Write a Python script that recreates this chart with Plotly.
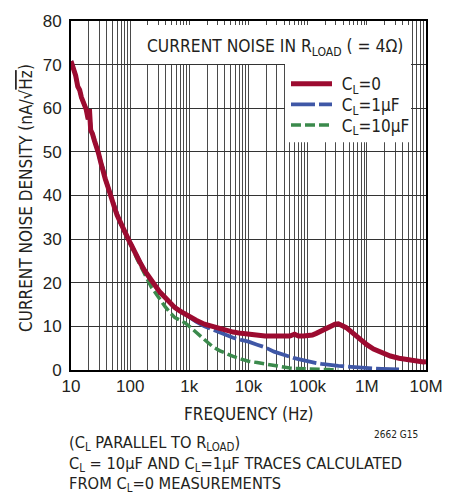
import plotly.graph_objects as go

# Frequency grid (Hz) shared by the three traces
freq_hz = [10, 11, 12, 13, 14, 15, 16.5, 18, 19.5, 20.5, 21.5, 23, 25, 27, 29, 32, 35, 38, 42, 46,
           50, 55, 60, 66, 72, 80, 88, 96, 105, 115, 130, 150, 175, 200, 230, 270, 320, 390, 470, 570,
           700, 850, 1000, 1300, 1800, 2500, 3300, 4000, 5500, 7500, 10000, 14000, 19000, 27000, 38000,
           50000, 60000, 70000, 85000, 100000, 120000, 140000, 170000, 200000, 240000, 290000, 330000,
           380000, 450000, 530000, 650000, 800000, 1000000, 1300000, 1800000, 2500000, 3500000,
           5000000, 7000000, 9000000, 10000000]

# Measured current noise, C_L = 0 (nA/rtHz)
noise_cl0 = [70.8, 69.0, 67.5, 65.0, 64.2, 62.5, 61.0, 59.8, 57.5, 59.8, 55.0, 54.2, 52.5, 51.3, 49.8,
             47.5, 46.0, 43.8, 42.0, 40.0, 38.8, 37.0, 35.5, 34.2, 33.0, 31.8, 30.4, 29.6, 28.6, 27.4,
             25.9, 24.4, 22.8, 21.6, 20.3, 19.2, 17.8, 16.6, 15.4, 14.3, 13.5, 12.8, 12.4, 11.4, 10.5,
             9.9, 9.4, 9.0, 8.7, 8.4, 8.2, 8.0, 7.8, 7.8, 7.7, 7.8, 8.2, 7.8, 7.8, 7.9, 8.0, 8.4, 9.0,
             9.6, 10.1, 10.5, 10.6, 10.3, 9.7, 8.9, 7.8, 6.8, 5.8, 4.8, 3.9, 3.2, 2.7, 2.3, 2.0, 1.85, 1.9]

# Calculated, C_L = 1uF
noise_cl1u = [70.8, 69.0, 67.5, 65.0, 64.2, 62.5, 61.0, 59.8, 57.5, 59.8, 55.0, 54.2, 52.5, 51.3, 49.8,
              47.5, 46.0, 43.8, 42.0, 40.0, 38.8, 37.0, 35.5, 34.2, 33.0, 31.8, 30.4, 29.6, 28.6, 27.4,
              25.9, 24.4, 22.8, 21.6, 20.3, 19.2, 17.8, 16.6, 15.4, 14.3, 13.5, 12.7, 12.1, 11.1, 10.0,
              9.2, 8.6, 8.0, 7.4, 6.9, 6.5, 5.8, 5.2, 4.2, 3.5, 3.0, 2.7, 2.5, 2.2, 2.0, 1.8, 1.6, 1.4,
              1.25, 1.1, 1.0, 0.95, 0.9, 0.8, 0.75, 0.6, 0.5, 0.42, 0.35, 0.28, 0.2, 0.15,
              None, None, None, None]

# Calculated, C_L = 10uF
noise_cl10u = [70.8, 69.0, 67.5, 65.0, 64.2, 62.5, 61.0, 59.8, 57.5, 59.8, 55.0, 54.2, 52.5, 51.3, 49.8,
               47.5, 46.0, 43.8, 42.0, 40.0, 38.8, 37.0, 35.5, 34.2, 33.0, 31.8, 30.4, 29.6, 28.6, 27.2,
               25.5, 23.8, 21.9, 20.4, 18.9, 17.6, 16.0, 14.5, 13.2, 12.0, 11.4, 10.8, 10.0, 8.6, 6.8,
               5.3, 4.4, 3.9, 3.1, 2.5, 2.0, 1.7, 1.4, 0.9, 0.6, 0.45, 0.35, 0.3, 0.25, 0.2, 0.17, 0.15,
               0.12, 0.1, 0.09, 0.08, 0.08, None, None, None, None, None, None, None, None, None, None,
               None, None, None, None]

# Axis ticks
decades = [10, 100, 1000, 10000, 100000, 1000000, 10000000]
decade_labels = ["10", "100", "1k", "10k", "100k", "1M", "10M"]
y_ticks = [0, 10, 20, 30, 40, 50, 60, 70, 80]

grid_vals, grid_text = [], []
for d, lab in zip(decades, decade_labels):
    grid_vals.append(d)
    grid_text.append(lab)
    if d < 10000000:
        for m in range(2, 10):
            grid_vals.append(d * m)
            grid_text.append("")

TXT = "DejaVu Sans Condensed, Liberation Sans Narrow, sans-serif"
NUM = "Liberation Sans, Arial, sans-serif"
INK = "#231f20"

PL, PR, PT, PB = 71, 426, 16, 370
W, H = 457, 495


def px(x):
    return (x - PL) / (PR - PL)


def py(y):
    return (PB - y) / (PB - PT)


fig = go.Figure()
fig.add_trace(go.Scatter(x=freq_hz, y=noise_cl10u, mode="lines", name="\u00a0C<sub>L</sub>=10µF",
                         legend="legend3",
                         line=dict(color="#3b8a4c", width=3.5, dash="10px,4px")))
fig.add_trace(go.Scatter(x=freq_hz, y=noise_cl1u, mode="lines", name="\u00a0C<sub>L</sub>=1µF",
                         legend="legend2",
                         line=dict(color="#3f57a6", width=3.8, dash="24px,4px")))
fig.add_trace(go.Scatter(x=freq_hz, y=noise_cl0, mode="lines", name="\u00a0C<sub>L</sub>=0",
                         legend="legend",
                         line=dict(color="#9c0b30", width=5)))


def key(row_y):
    return dict(x=px(286), y=py(row_y), xanchor="left", yanchor="middle",
                bgcolor="rgba(0,0,0,0)", font=dict(family=TXT, size=17, color=INK), itemwidth=41)


fig.update_layout(
    width=W, height=H,
    margin=dict(l=PL, r=W - PR, t=PT, b=H - PB),
    paper_bgcolor="white", plot_bgcolor="white",
    font=dict(family=TXT, color=INK, size=17),
    showlegend=True,
    legend=key(80), legend2=key(101), legend3=key(122),
    xaxis=dict(type="log", range=[1, 7], tickvals=grid_vals, ticktext=grid_text,
               showgrid=True, gridcolor="#4a4a4a", gridwidth=1, ticks="",
               showline=True, linecolor="black", linewidth=2, mirror=True,
               tickfont=dict(family=NUM, size=17, color=INK), zeroline=False),
    yaxis=dict(range=[0, 80], tickvals=y_ticks, showgrid=True, gridcolor="#333", gridwidth=1,
               ticks="", showline=True, linecolor="black", linewidth=2, mirror=True,
               tickfont=dict(family=NUM, size=17, color=INK), zeroline=False,
               ticklabelstandoff=4),
)

# white panels behind the caption and the key
fig.add_shape(type="rect", xref="paper", yref="paper", x0=px(131), x1=px(411), y0=py(59.5), y1=py(20),
              fillcolor="white", line=dict(width=0), layer="above")
fig.add_shape(type="rect", xref="paper", yref="paper", x0=px(285), x1=px(411), y0=py(139), y1=py(59.5),
              fillcolor="white", line=dict(width=0), layer="above")

fig.add_annotation(xref="paper", yref="paper", x=px(145), y=py(43), xanchor="left", yanchor="middle",
                   text="CURRENT NOISE IN R<sub>LOAD</sub> ( = 4Ω)", showarrow=False,
                   font=dict(size=17.3))

fig.add_annotation(xref="paper", yref="paper", x=px(26.5), y=py(196), xanchor="center", yanchor="middle",
                   textangle=-90, showarrow=False,
                   text="CURRENT NOISE DENSITY (nA/√<span style='text-decoration:overline'>Hz</span>)",
                   font=dict(size=17))

fig.add_annotation(xref="paper", yref="paper", x=0.5, y=py(415), xanchor="center", yanchor="middle",
                   text="FREQUENCY (Hz)", showarrow=False, font=dict(size=17))

fig.add_annotation(xref="paper", yref="paper", x=px(420), y=py(435), xanchor="right", yanchor="middle",
                   text="2662 G15", showarrow=False, font=dict(size=10))

notes = ["(C<sub>L</sub> PARALLEL TO R<sub>LOAD</sub>)",
         "C<sub>L</sub> = 10µF AND C<sub>L</sub>=1µF TRACES CALCULATED",
         "FROM C<sub>L</sub>=0 MEASUREMENTS"]
for line, yc in zip(notes, [445, 466, 486]):
    fig.add_annotation(xref="paper", yref="paper", x=px(67), y=py(yc), xanchor="left", yanchor="middle",
                       text=line, showarrow=False, font=dict(size=16.3))

fig.write_html("out.html")
